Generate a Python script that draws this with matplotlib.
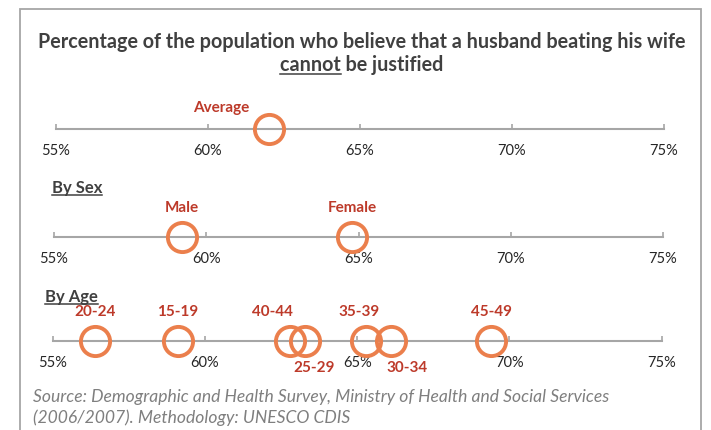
import matplotlib
matplotlib.use("Agg")
import matplotlib.pyplot as plt
from matplotlib.lines import Line2D
from matplotlib.patches import Rectangle

# ---------------- data ----------------
avg_labels = ["Average"]
avg_values = [62.0]

sex_labels = ["Male", "Female"]
sex_values = [59.2, 64.8]

age_labels = ["15-19", "20-24", "25-29", "30-34", "35-39", "40-44", "45-49"]
age_values = [59.1, 56.4, 63.3, 66.1, 65.3, 62.8, 69.4]

tick_values = [55, 60, 65, 70, 75]
tick_labels = ["55%", "60%", "65%", "70%", "75%"]

title_line1 = "Percentage of the population who believe that a husband beating his wife"
title_under = "cannot"
title_rest = " be justified"
source_lines = ["Source: Demographic and Health Survey, Ministry of Health and Social Services",
                "(2006/2007). Methodology: UNESCO CDIS"]

# label offsets in pixels (dx, dy) relative to marker
label_offsets = {
    "Average": (-48, 21),
    "Male": (0, 29), "Female": (0, 29),
    "15-19": (0, 29), "20-24": (0, 29), "25-29": (9, -27), "30-34": (16, -27),
    "35-39": (-7, 29), "40-44": (-18, 29), "45-49": (0, 29),
}

# ---------------- style ----------------
FONT = "Lato"
plt.rcParams["font.family"] = [FONT, "DejaVu Sans"]
W, H = 711, 430
fig = plt.figure(figsize=(W / 100, H / 100), dpi=100)
fig.patch.set_facecolor("white")

ORANGE = "#EB7F4C"
RED = "#BD3A2A"
GRAY = "#A6A6A6"
DARK = "#404040"

# frame
fig.add_artist(Rectangle((20 / W, -0.05), (701 - 20) / W, 1.05 - 9 / H,
                         transform=fig.transFigure, fill=False,
                         edgecolor=GRAY, linewidth=1.3, clip_on=False))


def px(x, y):
    return x / W, 1 - y / H


def panel(x_left, x_right, y_line, labels, values):
    h = 0.1
    ax = fig.add_axes([x_left / W, 1 - y_line / H - h / 2, (x_right - x_left) / W, h])
    ax.set_xlim(55, 75)
    ax.set_ylim(-1, 1)
    ax.set_facecolor("none")
    for s in ["top", "right", "left"]:
        ax.spines[s].set_visible(False)
    ax.spines["bottom"].set_position(("data", 0))
    ax.spines["bottom"].set_color(GRAY)
    ax.spines["bottom"].set_linewidth(1.5)
    ax.set_yticks([])
    ax.set_xticks(tick_values)
    ax.set_xticklabels(tick_labels)
    ax.tick_params(axis="x", direction="in", length=3.5, width=1.2, color=GRAY,
                   labelsize=10.5, labelcolor="#262626", pad=11)
    ax.plot(values, [0] * len(values), linestyle="none", marker="o", markersize=21,
            markerfacecolor="none", markeredgecolor=ORANGE, markeredgewidth=2.8,
            clip_on=False, zorder=3)
    for lab, v in zip(labels, values):
        dx, dy = label_offsets[lab]
        ax.annotate(lab, (v, 0), xytext=(dx, dy), textcoords="offset pixels",
                    ha="center", va="center", color=RED, fontsize=11,
                    fontweight="bold", annotation_clip=False)
    return ax


panel(56, 664, 129, avg_labels, avg_values)
panel(54, 663, 237, sex_labels, sex_values)
panel(52.7, 661.7, 340.5, age_labels, age_values)

# title
cx = 362
TS = 14.2
fig.text(*px(cx, 42), title_line1, ha="center", va="center", fontsize=TS,
         fontweight="bold", color=DARK)
t2 = fig.text(*px(cx, 65), title_under + title_rest, ha="center", va="center",
              fontsize=TS, fontweight="bold", color=DARK)

# headers
HS = 12
h1 = fig.text(*px(52, 188), "By Sex", ha="left", va="center", fontsize=HS,
              fontweight="bold", color=DARK)
h2 = fig.text(*px(45, 297), "By Age", ha="left", va="center", fontsize=HS,
              fontweight="bold", color=DARK)

# source
for i, line in enumerate(source_lines):
    fig.text(*px(33, 397 + 21 * i), line, ha="left", va="center", fontsize=12.6,
             fontstyle="italic", color="#7F7F7F")

# underlines
fig.canvas.draw()
r = fig.canvas.get_renderer()


def underline(txt_artist, sub, fontsize):
    bb = txt_artist.get_window_extent(r)
    tmp = fig.text(0, 0, sub, fontsize=fontsize, fontweight="bold")
    w = tmp.get_window_extent(r).width
    tmp.remove()
    y = bb.y0 + 1
    fig.add_artist(Line2D([bb.x0 / W, (bb.x0 + w) / W], [y / H, y / H],
                          transform=fig.transFigure, color=DARK, linewidth=1.1))


underline(t2, title_under, TS)
underline(h1, "By Sex", HS)
underline(h2, "By Age", HS)

fig.savefig("out.png", dpi=100)
